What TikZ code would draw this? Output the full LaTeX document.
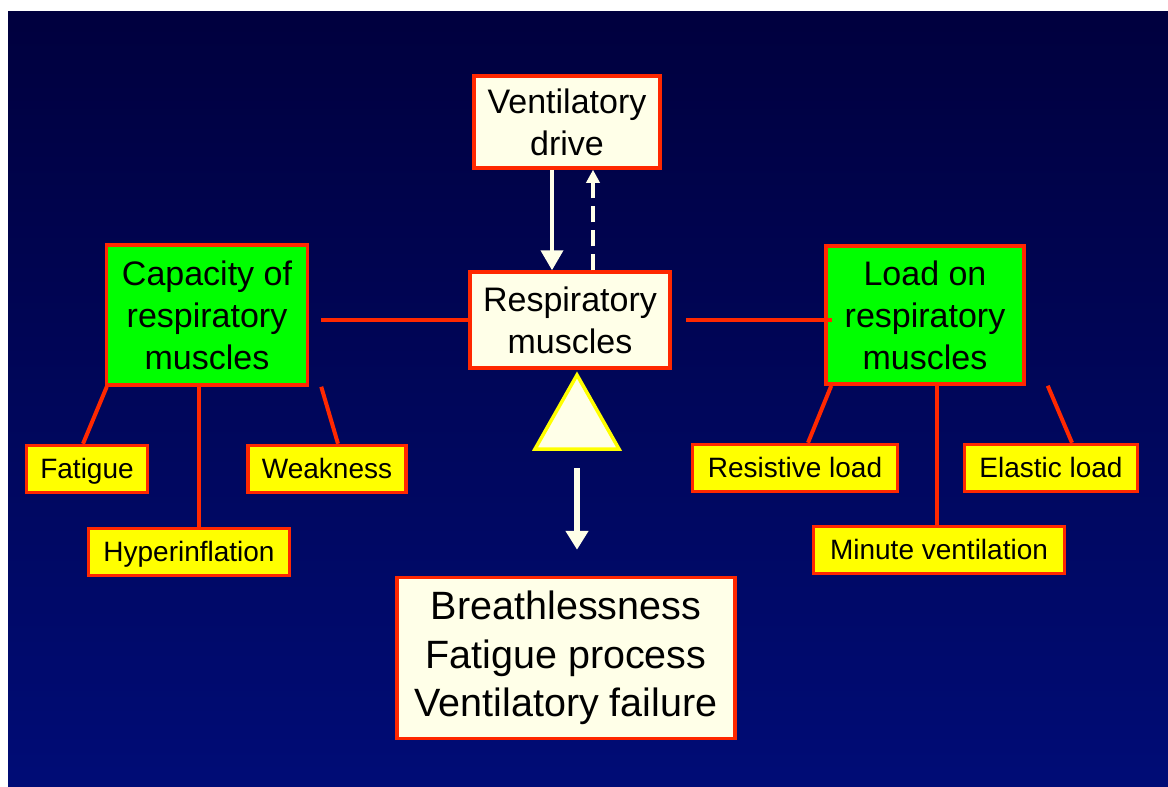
\documentclass[tikz,border=0pt]{standalone}
\usepackage{fontspec}
\setmainfont{Liberation Sans}
\usetikzlibrary{arrows.meta}

\definecolor{bgtop}{RGB}{0,0,62}
\definecolor{bgbot}{RGB}{0,12,118}
\definecolor{boxred}{RGB}{255,40,0}
\definecolor{cream}{RGB}{255,255,232}
\definecolor{lime}{RGB}{0,255,0}
\definecolor{yel}{RGB}{255,255,0}

\begin{document}
\begin{tikzpicture}[x=1pt, y=-1pt,
    bigbox/.style={draw=boxred, line width=3.5pt, fill=cream, inner sep=0pt,
        align=center, font=\fontsize{34}{42}\selectfont},
    greenbox/.style={bigbox, fill=lime},
    smallbox/.style={draw=boxred, line width=3.5pt, fill=yel, inner sep=0pt,
        minimum height=47pt, text height=20pt, text depth=1pt,
        font=\fontsize{28}{32}\selectfont},
    link/.style={draw=boxred, line width=4pt},
    flow/.style={draw=cream, line width=4pt}
]
    \useasboundingbox (0,0) rectangle (1168,787);
    \shade[top color=bgtop, bottom color=bgbot] (8,11) rectangle (1168,787);

    \node[bigbox, minimum width=186pt, minimum height=92pt] (drive) at (567,122) {Ventilatory\\drive};
    \node[bigbox, minimum width=200pt, minimum height=96pt] (resp) at (570,320) {Respiratory\\muscles};
    \node[greenbox, minimum width=201pt, minimum height=140pt] (cap) at (207,315) {Capacity of\\respiratory\\muscles};
    \node[greenbox, minimum width=198pt, minimum height=138pt] (load) at (925,315) {Load on\\respiratory\\muscles};

    \node[smallbox, minimum width=121pt] (fatigue) at (87,469) {Fatigue};
    \node[smallbox, minimum width=158pt] (weak) at (327,469) {Weakness};
    \node[smallbox, minimum width=201pt] (hyper) at (189,552) {Hyperinflation};
    \node[smallbox, minimum width=205pt] (resist) at (795,468) {Resistive load};
    \node[smallbox, minimum width=173pt] (elastic) at (1051,468) {Elastic load};
    \node[smallbox, minimum width=251pt] (minute) at (939,550) {Minute ventilation};

    \node[bigbox, minimum width=338pt, minimum height=161pt,
        font=\fontsize{39.5}{48.5}\selectfont] (out) at (566,658)
        {Breathlessness\\Fatigue process\\Ventilatory failure};

    % drive and feedback
    \draw[flow, -{Triangle[width=22pt,length=20pt]}]
        ([xshift=-15pt]drive.south) -- ([xshift=-18pt]resp.north);
    \draw[flow, dash pattern=on 16pt off 8pt, -{Triangle[width=13pt,length=13pt]}]
        ([xshift=23pt]resp.north) -- ([xshift=26pt]drive.south);

    % balance
    \draw[link] ([xshift=12pt]resp.west -| cap.east) -- (resp.west);
    \draw[link] ([xshift=14pt]resp.east) -- ([xshift=8pt]resp.east -| load.west);

    \draw[link] ([xshift=2pt]cap.south west) -- ([xshift=-4pt]fatigue.north);
    \draw[link] ([xshift=-8pt]cap.south) -- ([xshift=-8pt]cap.south |- hyper.north);
    \draw[link] ([xshift=12pt]cap.south east) -- ([xshift=11pt]weak.north);

    \draw[link] ([xshift=7pt]load.south west) -- ([xshift=13pt]resist.north);
    \draw[link] ([xshift=12pt]load.south) -- ([xshift=12pt]load.south |- minute.north);
    \draw[link] ([xshift=22pt]load.south east) -- ([xshift=21pt]elastic.north);

    % fulcrum
    \draw[draw=yel, fill=cream, line width=3.5pt, line join=miter]
        (577,375) -- (619,449) -- (535,449) -- cycle;
    \coordinate (base) at (577,449);
    \draw[flow, line width=6pt, -{Triangle[width=22pt,length=19pt]}]
        ([yshift=-19pt]base) -- ([yshift=26pt]out.north -| base);
\end{tikzpicture}
\end{document}
